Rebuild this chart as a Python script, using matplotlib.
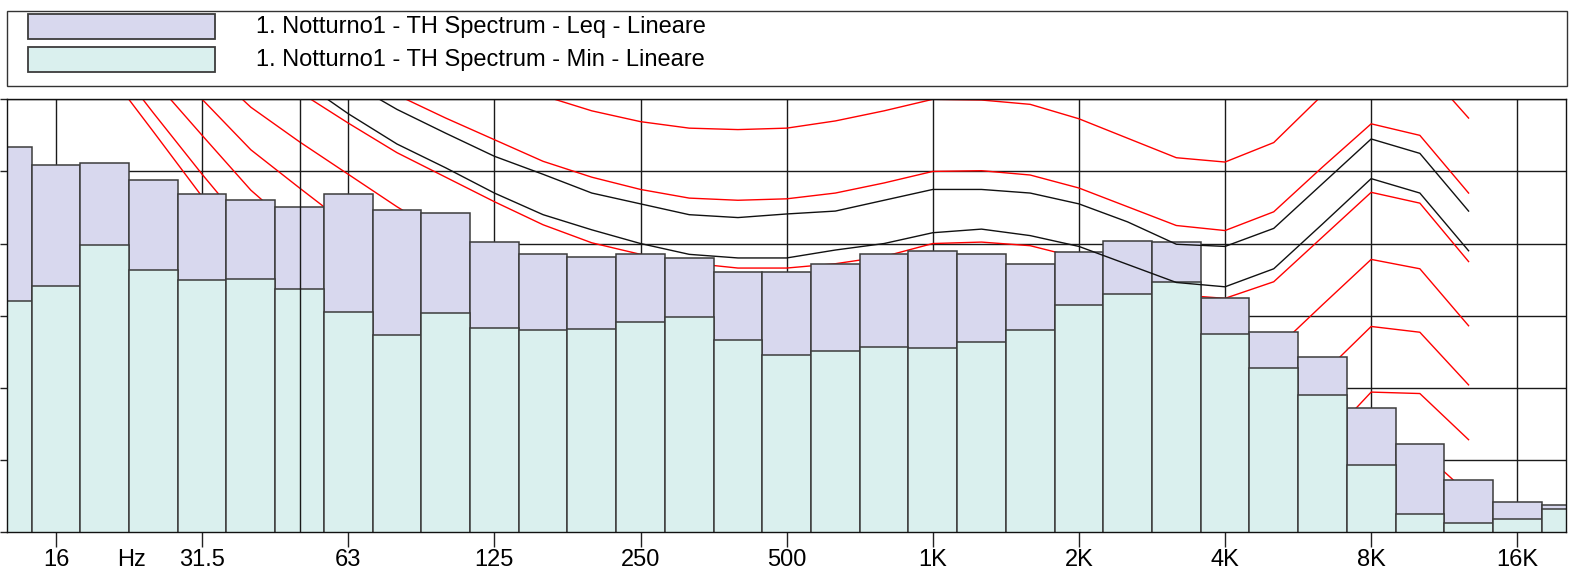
import matplotlib
matplotlib.use("Agg")
import matplotlib.pyplot as plt
from matplotlib.patches import Rectangle
import numpy as np

plt.rcParams["font.family"] = ["Liberation Sans", "DejaVu Sans"]

# Third-octave bands, 12.5 Hz ... 20 kHz
bands = ["12.5", "16", "20", "25", "31.5", "40", "50", "63", "80", "100",
         "125", "160", "200", "250", "315", "400", "500", "630", "800", "1K",
         "1.25K", "1.6K", "2K", "2.5K", "3.15K", "4K", "5K", "6.3K", "8K",
         "10K", "12.5K", "16K", "20K"]

# Spectrum levels, dB (linear weighting)
leq_db = [63.4, 60.9, 61.1, 58.8, 56.9, 56.0, 55.1, 56.9, 54.7, 54.2,
          50.2, 48.5, 48.2, 48.5, 48.0, 46.0, 46.0, 47.1, 48.5, 49.0,
          48.5, 47.2, 48.8, 50.4, 50.2, 42.5, 37.7, 34.3, 27.2, 22.2,
          17.2, 14.1, 13.8]
min_db = [42.1, 44.1, 49.8, 46.3, 44.9, 45.1, 43.7, 40.5, 37.3, 40.3,
          38.3, 38.0, 38.2, 39.1, 39.8, 36.6, 34.5, 35.1, 35.7, 35.5,
          36.4, 38.0, 41.5, 43.0, 44.6, 37.4, 32.8, 29.0, 19.3, 12.5,
          11.3, 11.8, 13.2]

octave_ticks = ["16", "31.5", "63", "125", "250", "500", "1K", "2K", "4K",
                "8K", "16K"]
unit_label = "Hz"
unit_pos = 2.56

# Isophone curves, 20 Hz ... 12.5 kHz
curve_bands = bands[2:31]
iso_70 = [101, 97, 93, 89, 85.5, 82, 78.8, 75.8, 73.0, 70.5, 68.4, 66.9,
          66.0, 65.8, 66.0, 67.0, 68.4, 70.0, 69.9, 69.3, 67.3, 64.6, 61.9,
          61.3, 64.0, 70.6, 76.7, 75.0, 67.4]
iso_60 = [93.5, 89, 85, 81, 77.5, 74.0, 70.6, 67.4, 64.4, 61.4, 59.2, 57.5,
          56.3, 56.0, 56.2, 57.0, 58.4, 60.0, 60.1, 59.5, 57.7, 55.1, 52.5,
          51.8, 54.4, 60.6, 66.6, 65.0, 57.0]
iso_50 = [89, 84.5, 80, 75.5, 71.0, 66.7, 62.6, 59.2, 55.8, 52.6, 50.1, 48.5,
          47.3, 46.6, 46.6, 47.2, 48.2, 50.0, 50.2, 49.7, 48.0, 45.5, 42.9,
          42.4, 44.7, 50.9, 57.1, 55.6, 47.5]
iso_40 = [88, 81.5, 75.2, 68.9, 64.1, 59.6, 55.1, 51.0, 47.0, 43.1, 40.1,
          38.2, 36.8, 36.0, 36.0, 36.8, 38.0, 40.0, 40.2, 39.6, 37.7, 34.8,
          31.8, 31.2, 35.1, 41.5, 47.8, 46.5, 38.6]
iso_30 = [84, 77, 70.0, 63.0, 57.7, 52.5, 47.0, 42.4, 37.8, 33.5, 30.1, 28.0,
          26.4, 25.4, 25.4, 26.2, 27.6, 30.0, 30.3, 29.6, 27.3, 23.9, 20.4,
          19.7, 25.0, 31.9, 38.5, 37.7, 30.4]
iso_20 = [80.5, 72.7, 65.0, 57.4, 51.5, 45.1, 38.9, 33.8, 28.7, 23.9, 20.2,
          17.8, 16.0, 14.9, 14.9, 15.8, 17.3, 20.0, 20.3, 19.6, 17.0, 13.3,
          9.4, 8.6, 13.5, 22.2, 29.4, 29.2, 22.8]
iso_10 = [76.8, 68.1, 59.6, 51.5, 44.5, 38.0, 32.0, 26.5, 21.5, 16.8, 12.8,
          10.0, 7.8, 6.4, 6.3, 6.8, 7.9, 10.0, 10.3, 9.5, 7.0, 3.0, -1.0,
          -2.0, 2.5, 12.0, 21.5, 21.4, 15.3]
iso_0 = [74.4, 65.5, 56.5, 47.5, 39.5, 32.5, 26.0, 20.0, 14.5, 9.5, 5.0,
         2.0, -0.5, -2.0, -2.2, -1.5, -0.5, 0.0, 0.3, -0.5, -3.0, -7.0,
         -11.0, -12.0, -7.5, 2.0, 13.0, 13.0, 7.5]
ref_upper = [92, 88, 84, 80, 76, 72.5, 68.6, 65.3, 62.1, 59.6, 57.0, 55.5,
             54.0, 53.6, 54.1, 54.5, 56.0, 57.5, 57.5, 57.0, 55.5, 53.0, 49.9,
             49.6, 52.1, 58.3, 64.5, 62.5, 54.5]
ref_lower = [90.5, 86, 81.5, 77, 72.7, 68.0, 63.8, 60.5, 57.0, 54.0, 51.9,
             50.0, 48.5, 48.0, 48.0, 49.1, 50.0, 51.5, 52.0, 51.1, 49.6, 47.1,
             44.6, 44.0, 46.5, 52.7, 59.0, 57.0, 49.0]

marker_band = "50"

legend_labels = ["1. Notturno1 - TH Spectrum - Leq - Lineare",
                 "1. Notturno1 - TH Spectrum - Min - Lineare"]

leq_color = "#D8D8EE"
min_color = "#DAF0EE"
edge_color = "#3C3C3C"
label_size = 17

W, H = 1573, 573
fig = plt.figure(figsize=(W / 100, H / 100), dpi=100)


def fx(px):
    return px / W


def fy(py):
    return 1 - py / H


ax = fig.add_axes([fx(7.3), fy(532), fx(1566 - 7.3), (532 - 99.3) / H])

x = np.arange(len(bands))
ax.bar(x, leq_db, width=1.0, color=leq_color, edgecolor=edge_color,
       linewidth=1.1, zorder=2)
ax.bar(x, min_db, width=1.0, color=min_color, edgecolor=edge_color,
       linewidth=1.1, zorder=2.1)

cx = [bands.index(b) for b in curve_bands]
for curve in (iso_70, iso_60, iso_50, iso_40, iso_30, iso_20, iso_10, iso_0):
    ax.plot(cx, curve, color="#FF0000", lw=1.0, zorder=1)
for curve in (ref_upper, ref_lower):
    ax.plot(cx, curve, color="#111111", lw=1.0, zorder=3)

ax.axvline(bands.index(marker_band), color="#1a1a1a", lw=1.0, zorder=3)

ax.set_xlim(0, len(bands) - 1)
ax.set_ylim(10, 70)
ax.set_xticks([bands.index(t) for t in octave_ticks], octave_ticks)
ax.set_xticks([unit_pos], [unit_label], minor=True)
ax.set_yticks(np.arange(10, 71, 10))
ax.tick_params(axis="x", which="major", direction="out", length=10.6,
               width=1.0, pad=1.8, labelsize=label_size, color="#222222")
ax.tick_params(axis="x", which="minor", length=0, pad=12.4,
               labelsize=label_size)
ax.tick_params(axis="y", direction="out", length=5.3, width=1.0,
               labelleft=False, color="#222222")
ax.set_axisbelow(True)
ax.grid(True, which="major", color="#1a1a1a", lw=1.0)
for s in ax.spines.values():
    s.set_color("#111111")
    s.set_linewidth(1.0)

# Legend panel
fig.patches.append(Rectangle((fx(7), fy(86)), fx(1567 - 7), (86 - 11) / H,
                             transform=fig.transFigure, facecolor="white",
                             edgecolor="#333333", lw=1.0))
for (top, bot), col, lab in zip([(14, 39), (47.3, 72)],
                                [leq_color, min_color], legend_labels):
    fig.patches.append(Rectangle((fx(28.3), fy(bot)), fx(215 - 28.3),
                                 (bot - top) / H, transform=fig.transFigure,
                                 facecolor=col, edgecolor="#3C3C3C", lw=1.3))
    fig.text(fx(255.8), fy((top + bot) / 2), lab, fontsize=label_size,
             va="center", ha="left")

fig.savefig("out.png", dpi=100)
